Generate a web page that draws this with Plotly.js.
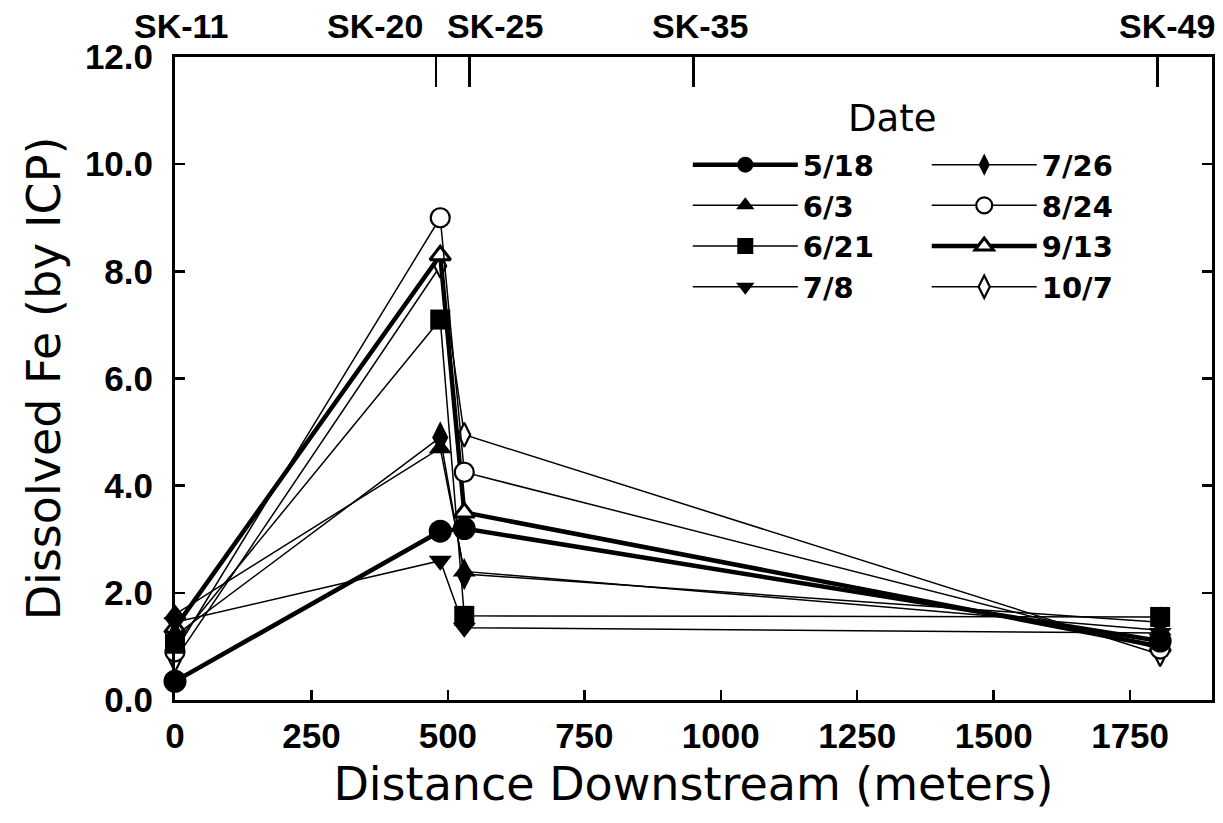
<!DOCTYPE html>
<html>
<head>
<meta charset="utf-8">
<script src="https://cdn.plot.ly/plotly-3.0.1.min.js"></script>
<style>html,body{margin:0;padding:0;background:#fff;}</style>
</head>
<body>
<div id="chart" style="width:1223px;height:823px;"></div>
<script>
// Distance downstream (meters) of sampling sites
const distance = [0, 486, 530, 1805];
const dates = ['5/18', '6/3', '6/21', '7/8', '7/26', '8/24', '9/13', '10/7'];

// Dissolved Fe (by ICP) per sampling date
const fe_0518 = [0.35, 3.15, 3.2, 1.1];
const fe_0603 = [1.6, 4.7, 2.4, 1.3];
const fe_0621 = [1.05, 7.1, 1.57, 1.55];
const fe_0708 = [1.45, 2.6, 1.35, 1.25];
const fe_0726 = [1.2, 4.9, 2.35, 1.45];
const fe_0824 = [0.9, 9.0, 4.25, 0.95];
const fe_0913 = [1.35, 8.3, 3.5, 1.0];
const fe_1007 = [0.75, 8.1, 4.95, 0.85];

// Bottom ticks and top site labels
const xTicks = [0, 250, 500, 750, 1000, 1250, 1500, 1750];
const yTicks = [0, 2, 4, 6, 8, 10, 12];
const siteLabels = ['SK-11', 'SK-20', 'SK-25', 'SK-35', 'SK-49'];
const sitePos = [0, 478, 540, 950, 1800];

const seriesValues = [fe_0518, fe_0603, fe_0621, fe_0708, fe_0726, fe_0824, fe_0913, fe_1007];

const styles = [
  {symbol: 'circle', size: 23, fill: 'black', mlw: 0, lw: 4.5},
  {symbol: 'triangle-up', size: 20, fill: 'black', mlw: 0, lw: 1.5},
  {symbol: 'square', size: 20, fill: 'black', mlw: 0, lw: 1.5},
  {symbol: 'triangle-down', size: 20, fill: 'black', mlw: 0, lw: 1.5},
  {symbol: 'diamond-tall', size: 23, fill: 'black', mlw: 0, lw: 1.5},
  {symbol: 'circle', size: 19, fill: 'white', mlw: 2.2, lw: 1.5},
  {symbol: 'triangle-up', size: 18, fill: 'white', mlw: 3, lw: 4.5},
  {symbol: 'diamond-tall', size: 17, fill: 'white', mlw: 2.2, lw: 1.5}
];

const narrowBold = {family: 'Liberation Sans, Arial, sans-serif', size: 35, color: 'black', weight: 'bold'};

// draw later dates first so the filled markers end up on top (as in the original)
const traces = [];
for (let i = seriesValues.length - 1; i >= 0; i--) {
  traces.push({
    type: 'scatter',
    mode: 'lines+markers',
    x: distance,
    y: seriesValues[i],
    name: dates[i],
    legend: i < 4 ? 'legend' : 'legend2',
    legendrank: i + 1,
    line: {color: 'black', width: styles[i].lw},
    marker: {symbol: styles[i].symbol, size: styles[i].size, color: styles[i].fill,
             line: {color: 'black', width: styles[i].mlw}},
    cliponaxis: false,
    hoverinfo: 'x+y+name'
  });
}

// invisible trace to hold the top site axis
traces.push({type: 'scatter', mode: 'markers', x: sitePos, y: sitePos.map(() => null),
  xaxis: 'x2', yaxis: 'y', showlegend: false, hoverinfo: 'skip'});

const siteShift = [6, -61, 25, 6, 10];
const annotations = siteLabels.map((t, i) => ({
  text: t, x: sitePos[i], xref: 'x', y: 1, yref: 'paper', yanchor: 'bottom',
  xanchor: 'center', yshift: 10, xshift: siteShift[i], showarrow: false,
  font: {family: narrowBold.family, size: 34, color: 'black', weight: 'bold'}
}));
annotations.push({text: 'Date', x: 0.691, xref: 'paper', y: 0.904, yref: 'paper',
  xanchor: 'center', yanchor: 'middle', showarrow: false,
  font: {family: 'DejaVu Sans', size: 37, color: 'black'}});

const legendFont = {family: 'DejaVu Sans', size: 29, color: 'black', weight: 'bold'};

const layout = {
  width: 1223, height: 823,
  margin: {l: 175, r: 11, t: 57, b: 123},
  paper_bgcolor: 'white', plot_bgcolor: 'white',
  showlegend: true,
  xaxis: {
    range: [0, 1900], tickvals: xTicks, ticks: 'inside', ticklen: 10, tickwidth: 2.5,
    showline: true, linewidth: 3, linecolor: 'black', tickcolor: 'black',
    showgrid: false, zeroline: false, mirror: false,
    tickfont: narrowBold, ticklabelstandoff: 3,
    title: {text: 'Distance Downstream (meters)', font: {family: 'DejaVu Sans', size: 46, color: 'black'}, standoff: 14}
  },
  xaxis2: {
    overlaying: 'x', side: 'top', anchor: 'y', range: [0, 1900], tickvals: sitePos,
    showticklabels: false, ticks: 'inside', ticklen: 30, tickwidth: 2.5, tickcolor: 'black',
    showline: true, linewidth: 3, linecolor: 'black', showgrid: false, zeroline: false
  },
  yaxis: {
    range: [0, 12], tickvals: yTicks, tickformat: '.1f',
    ticks: 'inside', ticklen: 10, tickwidth: 2.5, tickcolor: 'black',
    showline: true, linewidth: 3, linecolor: 'black', mirror: 'ticks',
    showgrid: false, zeroline: false, tickfont: narrowBold, ticklabelstandoff: 12,
    title: {text: 'Dissolved Fe (by ICP)', font: {family: 'DejaVu Sans', size: 46, color: 'black'}, standoff: 10}
  },
  legend: {x: 0.4945, y: 0.872, xanchor: 'left', yanchor: 'top', font: legendFont,
    bgcolor: 'rgba(0,0,0,0)', borderwidth: 0, itemwidth: 105, tracegroupgap: 0},
  legend2: {x: 0.7249, y: 0.872, xanchor: 'left', yanchor: 'top', font: legendFont,
    bgcolor: 'rgba(0,0,0,0)', borderwidth: 0, itemwidth: 105, tracegroupgap: 0},
  annotations: annotations
};

Plotly.newPlot('chart', traces, layout, {displayModeBar: false, staticPlot: true});
</script>
</body>
</html>
